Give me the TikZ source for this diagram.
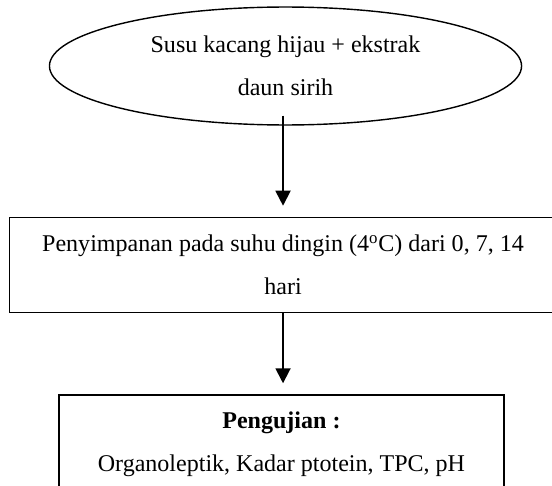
\documentclass[tikz,border=0pt]{standalone}
\usepackage{fontspec}
\setmainfont{Liberation Serif}
\usepackage{tikz}
\usetikzlibrary{arrows.meta,positioning,shapes.geometric}

\begin{document}
\begin{tikzpicture}[
node distance=58.3pt,
txt/.style={align=center,font=\fontsize{15.4pt}{27.6pt}\selectfont,inner sep=0pt},
start/.style={txt,ellipse,draw,line width=0.9pt,minimum width=302.6pt,minimum height=75.6pt},
block/.style={txt,draw,line width=1pt},
arrow/.style={-{Triangle[length=9.6pt,width=9.6pt]},line width=1.2pt}]
\useasboundingbox (0,0) rectangle (353.8pt,-310.9pt);
\clip (0,0) rectangle (353.8pt,-310.9pt);
\node[start] (susu) at (183pt,-42.3pt) {Susu kacang hijau + ekstrak\\daun sirih};
\node[block,minimum width=350.6pt,minimum height=60.9pt,below=58.3pt of susu,xshift=-1.6pt] (simpan) {Penyimpanan pada suhu dingin (4\textsuperscript{o}C) dari 0, 7, 14\\hari};
\node[block,minimum width=285.2pt,minimum height=62.8pt,below=51.9pt of simpan,xshift=-1pt] (uji) {\textbf{Pengujian :}\\Organoleptik, Kadar ptotein, TPC, pH};
\draw[arrow,shorten <=-6.4pt,shorten >=7pt] (susu.south -| simpan.north) -- (simpan.north);
\draw[arrow,shorten >=7pt] (simpan.south) -- (simpan.south |- uji.north);
\end{tikzpicture}
\end{document}
